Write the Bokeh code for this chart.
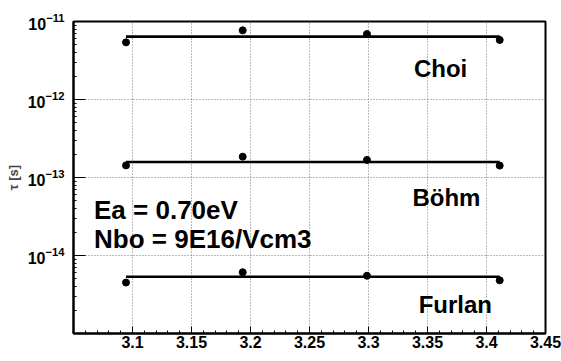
from bokeh.plotting import figure
from bokeh.models import Range1d, FixedTicker, Label
from bokeh.embed import file_html
from bokeh.resources import INLINE

# 1000/T values (x) and tau values (y)
x_vals = [3.0945, 3.1934, 3.2987, 3.4112]
choi = [5.4e-12, 7.7e-12, 6.9e-12, 5.8e-12]
bohm = [1.43e-13, 1.85e-13, 1.68e-13, 1.42e-13]
furlan = [4.5e-15, 6.1e-15, 5.5e-15, 4.8e-15]
choi_fit = 6.4e-12
bohm_fit = 1.58e-13
furlan_fit = 5.35e-15
series_names = ["Choi", "Böhm", "Furlan"]
x_ticks = [3.1, 3.15, 3.2, 3.25, 3.3, 3.35, 3.4, 3.45]
x_tick_labels = ["3.1", "3.15", "3.2", "3.25", "3.3", "3.35", "3.4", "3.45"]
y_ticks = [1e-14, 1e-13, 1e-12, 1e-11]

FONT = "Liberation Sans"
X0, X1 = 3.05, 3.45

p = figure(width=561, height=361, y_axis_type="log",
           x_range=Range1d(X0, X1), y_range=Range1d(1e-15, 1e-11),
           output_backend="svg", toolbar_location=None,
           min_border_left=73, min_border_right=16,
           min_border_top=21, min_border_bottom=28)

p.background_fill_color = "white"
p.border_fill_color = "white"
p.outline_line_color = "black"
p.outline_line_width = 2

# axes
p.xaxis.ticker = FixedTicker(ticks=x_ticks,
                             minor_ticks=[round(X0 + 0.01 * i, 2) for i in range(41)])
p.xaxis.major_label_overrides = {t: l for t, l in zip(x_ticks, x_tick_labels)}
minor_y = [m * 10.0 ** k for k in range(-15, -11) for m in range(2, 10)]
p.yaxis.ticker = FixedTicker(ticks=y_ticks, minor_ticks=minor_y)

p.axis.axis_line_color = "black"
p.axis.axis_line_width = 2
p.axis.major_tick_out = 0
p.axis.minor_tick_out = 0
p.axis.minor_tick_in = 3
p.axis.major_tick_line_color = "black"
p.axis.minor_tick_line_color = "black"
p.axis.major_label_text_font = FONT
p.axis.major_label_text_font_style = "bold"
p.axis.major_label_text_font_size = "16px"
p.axis.major_label_text_color = "black"

p.xaxis.major_tick_in = 7
p.yaxis.major_tick_in = 12
p.xaxis.major_label_standoff = 2
p.yaxis.major_label_standoff = 9

p.yaxis.axis_label = "τ [s]"
p.yaxis.axis_label_text_font = FONT
p.yaxis.axis_label_text_font_style = "bold"
p.yaxis.axis_label_text_font_size = "13px"
p.yaxis.axis_label_standoff = 4

# grid
p.grid.grid_line_color = "#777777"
p.grid.grid_line_dash = "1 2"
p.grid.grid_line_width = 1

# series
for vals, fit in ((choi, choi_fit), (bohm, bohm_fit), (furlan, furlan_fit)):
    p.line([x_vals[0], x_vals[-1]], [fit, fit], line_color="black", line_width=2.6)
    p.scatter(x_vals, vals, size=7, marker="circle", fill_color="black", line_color="black")

# series labels
label_pos = [(3.3385, 1.9e-12), (3.3372, 4.2e-14), (3.3425, 1.8e-15)]
for name, (lx, ly) in zip(series_names, label_pos):
    p.add_layout(Label(x=lx, y=ly, text=name, text_font=FONT, text_font_style="bold",
                       text_font_size="24px", text_color="black",
                       text_baseline="alphabetic", y_offset=9))

p.add_layout(Label(x=3.0674, y=2.95e-14, text="Ea = 0.70eV", text_font=FONT,
                   text_font_style="bold", text_font_size="26px", text_color="black",
                   text_baseline="alphabetic", y_offset=9))
p.add_layout(Label(x=3.0674, y=1.26e-14, text="Nbo = 9E16/Vcm3", text_font=FONT,
                   text_font_style="bold", text_font_size="26px", text_color="black",
                   text_baseline="alphabetic", y_offset=9))

open("out.html", "w").write(file_html(p, INLINE))
